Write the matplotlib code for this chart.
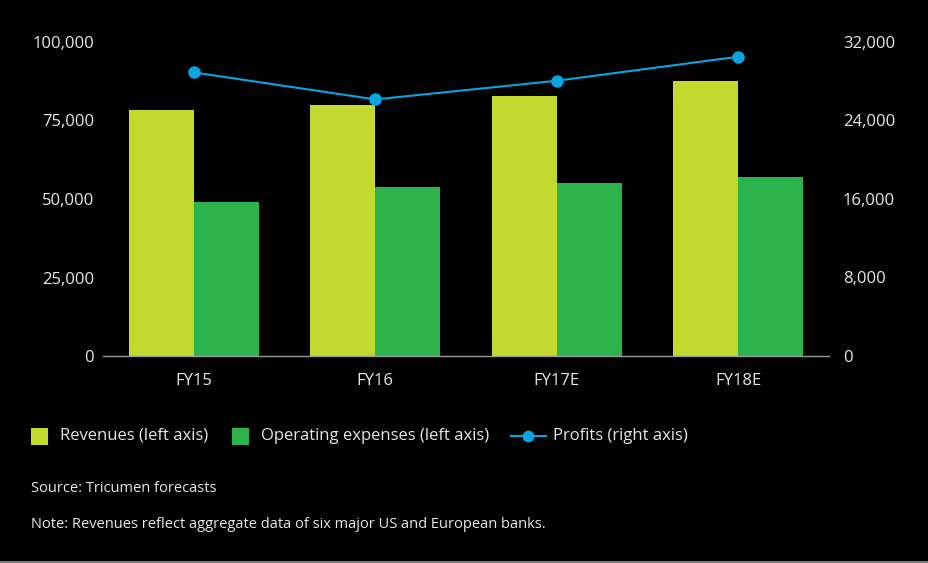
import matplotlib
matplotlib.use("Agg")
import matplotlib.pyplot as plt
from matplotlib.lines import Line2D
from matplotlib.patches import Rectangle
import numpy as np

categories = ["FY15", "FY16", "FY17E", "FY18E"]
revenues = [78200, 79900, 82900, 87500]
opex = [49100, 53700, 55000, 57100]
profits = [28900, 26150, 28050, 30500]
left_ticks = [0, 25000, 50000, 75000, 100000]
right_ticks = [0, 8000, 16000, 24000, 32000]
legend_labels = ["Revenues (left axis)", "Operating expenses (left axis)", "Profits (right axis)"]

plt.rcParams['font.family'] = ['Open Sans', 'DejaVu Sans']
txt = '#e8e8e8'
c_rev = '#C4D92F'
c_opex = '#2DB34B'
c_prof = '#0AA5E0'

W, H = 929, 563
fig = plt.figure(figsize=(W / 100, H / 100), dpi=100, facecolor='black')
ax = fig.add_axes([103 / W, 1 - 356 / H, (829 - 103) / W, (356 - 42) / H])
ax.set_facecolor('black')
x = np.arange(len(categories))
w = 0.358
ax.bar(x - w / 2, revenues, width=w, color=c_rev, zorder=2)
ax.bar(x + w / 2, opex, width=w, color=c_opex, zorder=2)
ax.set_xlim(-0.5, len(categories) - 0.5)
ax.set_ylim(0, 100000)
ax.set_yticks(left_ticks)
ax.set_yticklabels([f"{v:,}" for v in left_ticks])
ax.set_xticks(x)
ax.set_xticklabels(categories)
for s in ['top', 'right', 'left']:
    ax.spines[s].set_visible(False)
ax.spines['bottom'].set_color('#9a9a9a')
ax.spines['bottom'].set_linewidth(1)
ax.tick_params(axis='both', length=0, colors=txt, labelsize=12)
ax.tick_params(axis='y', pad=6.5)
ax.tick_params(axis='x', pad=12)

ax2 = ax.twinx()
ax2.set_ylim(0, 32000)
ax2.set_yticks(right_ticks)
ax2.set_yticklabels([f"{v:,}" for v in right_ticks])
ax2.plot(x, profits, color=c_prof, lw=1.5, marker='o', ms=8, zorder=3)
for s in ['top', 'right', 'left', 'bottom']:
    ax2.spines[s].set_visible(False)
ax2.tick_params(axis='y', length=0, colors=txt, labelsize=12, pad=10)

# manual legend (figure pixel coords)
ly = 1 - 436 / H
def fx(px):
    return px / W
fig.add_artist(Rectangle((fx(31), 1 - 445 / H), 17 / W, 17 / H, facecolor=c_rev,
                         edgecolor='none', transform=fig.transFigure))
fig.text(fx(60), ly, legend_labels[0], color=txt, fontsize=12, va='center')
fig.add_artist(Rectangle((fx(232), 1 - 445 / H), 17 / W, 17 / H, facecolor=c_opex,
                         edgecolor='none', transform=fig.transFigure))
fig.text(fx(261), ly, legend_labels[1], color=txt, fontsize=12, va='center')
fig.add_artist(Line2D([fx(511), fx(546)], [ly, ly], color=c_prof, lw=1.5,
                      transform=fig.transFigure))
fig.add_artist(Line2D([fx(528)], [ly], color=c_prof, marker='o', ms=7.5, lw=0,
                      transform=fig.transFigure))
fig.text(fx(553), ly, legend_labels[2], color=txt, fontsize=12, va='center')

fig.text(fx(31), 1 - 488 / H, "Source: Tricumen forecasts", color=txt, fontsize=10.5, va='center')
fig.text(fx(31), 1 - 525 / H, "Note: Revenues reflect aggregate data of six major US and European banks.",
         color=txt, fontsize=10.5, va='center')
fig.add_artist(Line2D([0, 1], [0.002, 0.002], color='#777777', lw=1.5, transform=fig.transFigure))

fig.savefig("out.png", dpi=100, facecolor='black')
